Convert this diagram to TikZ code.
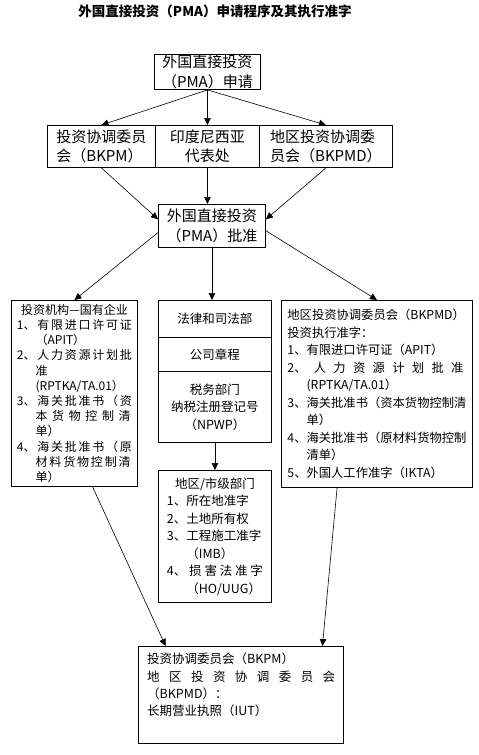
\documentclass[tikz,border=0pt]{standalone}
\usepackage{fontspec}
\setmainfont{Noto Sans CJK SC}
\usetikzlibrary{arrows.meta}
\newcommand{\spreadto}[2]{\makebox[#1][s]{\spaceskip=0pt plus 1fil\relax #2}}
\newcommand{\hang}{\phantom{1、}}

\begin{document}
\begin{tikzpicture}[x=1pt,y=1pt,yscale=-1,xscale=1,
    box/.style={draw, line width=0.9pt, anchor=north west, inner sep=0pt, align=center},
    link/.style={line width=0.6pt, -{Triangle[length=7pt,width=6.5pt]}},
    big/.style={font=\fontsize{15}{19.5}\selectfont},
    small/.style={font=\fontsize{12.5}{17.5}\selectfont}]
    \useasboundingbox (0,0) rectangle (479,755);

    % Text Node
    \node (title) at (215,11) [font=\fontsize{13.5}{16}\selectfont\bfseries] {外国直接投资（PMA）申请程序及其执行准字};

    %Shape: Rectangle
    \node (apply) at (154,54) [box, big, minimum width=106, minimum height=35] {外国直接投资\\（PMA）申请};
    %Shape: Rectangle
    \node (bkpm) at (47,125) [box, big, align=left, minimum width=108, minimum height=42] {投资协调委员\\会（BKPM）};
    %Shape: Rectangle
    \node (indo) at (155,125) [box, big, minimum width=104, minimum height=42] {印度尼西亚\\代表处};
    %Shape: Rectangle
    \node (bkpmd) at (259,125) [box, big, align=left, minimum width=133, minimum height=42] {地区投资协调委\\员会（BKPMD）};
    %Shape: Rectangle
    \node (approve) at (158,204) [box, big, minimum width=107, minimum height=43] {外国直接投资\\（PMA）批准};

    %Shape: Rectangle
    \node (invest) at (11,300) [box, align=left, font=\fontsize{12}{15.2}\selectfont, minimum width=126, minimum height=186] {%
        \makebox[115pt][c]{投资机构—国有企业}\\
        \spreadto{115pt}{1、 有 限 进 口 许 可 证}\\
        \hang（APIT）\\
        \spreadto{115pt}{2、 人 力 资 源 计 划 批}\\
        \hang 准\\
        \hang(RPTKA/TA.01）\\
        \spreadto{115pt}{3、 海 关 批 准 书 （ 资}\\
        \hang\spreadto{95pt}{本 货 物 控 制 清}\\
        \hang 单）\\
        \spreadto{115pt}{4、 海 关 批 准 书 （ 原}\\
        \hang\spreadto{95pt}{材 料 货 物 控 制 清}\\
        \hang 单）};

    %Shape: Rectangle
    \node (law) at (158,300) [box, small, minimum width=113, minimum height=37] {法律和司法部};
    %Shape: Rectangle
    \node (charter) at (158,337) [box, small, minimum width=113, minimum height=34] {公司章程};
    %Shape: Rectangle
    \node (tax) at (158,371) [box, small, minimum width=113, minimum height=71] {税务部门\\纳税注册登记号\\（NPWP）};
    %Shape: Rectangle
    \node (region) at (158,470) [box, small, align=left, minimum width=113, minimum height=132] {%
        \makebox[96pt][c]{地区/市级部门}\\
        1、所在地准字\\
        2、土地所有权\\
        3、工程施工准字\\
        \hang（IMB）\\
        \spreadto{96pt}{4、 损 害 法 准 字}\\
        \hang（HO/UUG）};

    %Shape: Rectangle
    \node (bkpmdlist) at (281,300) [box, align=left, font=\fontsize{12.3}{17.5}\selectfont, minimum width=191, minimum height=187] {%
        地区投资协调委员会（BKPMD）\\
        投资执行准字：\\
        1、有限进口许可证（APIT）\\
        \spreadto{176pt}{2、 人 力 资 源 计 划 批 准}\\
        \hang(RPTKA/TA.01）\\
        3、海关批准书（资本货物控制清\\
        \hang 单）\\
        4、海关批准书（原材料货物控制\\
        \hang 清单）\\
        5、外国人工作准字（IKTA）};

    %Shape: Rectangle
    \node (licence) at (138,646) [box, minimum width=205, minimum height=97] {};
    % Text Node
    \node (licencetext) at (147,653) [anchor=north west, inner sep=0pt, align=left, font=\fontsize{12.5}{17.3}\selectfont] {%
        投资协调委员会（BKPM）\\
        \spreadto{188pt}{地 区 投 资 协 调 委 员 会}\\
        （BKPMD）：\\
        长期营业执照（IUT）};

    %Straight Lines
    \draw[link] (apply.south) -- (bkpm.north);
    \draw[link] (apply.south) -- (indo.north);
    \draw[link] (apply.south) -- (bkpmd.north);
    \draw[link] (bkpm.south) -- (approve.173);
    \draw[link] (indo.south) -- (indo.south |- approve.north);
    \draw[link] (bkpmd.south) -- (approve.7);
    \draw[link] (approve.187) -- (invest.north);
    \draw[link] (approve.south) -- (approve.south |- law.north);
    \draw[link] (approve.355) -- (bkpmdlist.north);
    \draw[link] (tax.south) -- (region.north);
    \draw[link] (invest.281) -- (licence.147);
    \draw[link] (bkpmdlist.247) -- (licence.31);

\end{tikzpicture}
\end{document}
